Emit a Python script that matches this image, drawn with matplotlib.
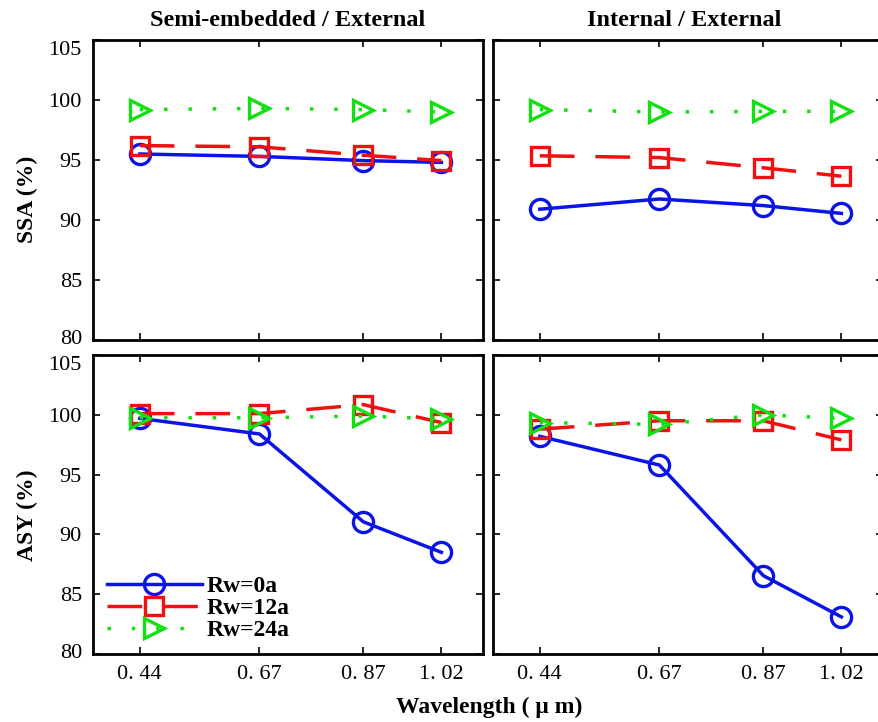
import matplotlib
matplotlib.use("Agg")
import matplotlib.pyplot as plt
import matplotlib.transforms as mtransforms

wavelengths = [0.44, 0.67, 0.87, 1.02]
xtick_labels = ["0. 44", "0. 67", "0. 87", "1. 02"]
series_labels = ["Rw=0a", "Rw=12a", "Rw=24a"]

ssa_semi = {
    "Rw=0a": [95.5, 95.3, 94.95, 94.8],
    "Rw=12a": [96.2, 96.1, 95.4, 94.95],
    "Rw=24a": [99.2, 99.3, 99.2, 99.0],
}
ssa_int = {
    "Rw=0a": [90.9, 91.75, 91.2, 90.55],
    "Rw=12a": [95.35, 95.2, 94.35, 93.65],
    "Rw=24a": [99.2, 99.0, 99.05, 99.05],
}
asy_semi = {
    "Rw=0a": [99.7, 98.4, 91.05, 88.5],
    "Rw=12a": [100.1, 100.1, 100.85, 99.35],
    "Rw=24a": [99.75, 99.75, 99.9, 99.65],
}
asy_int = {
    "Rw=0a": [98.2, 95.8, 86.55, 83.1],
    "Rw=12a": [98.8, 99.5, 99.5, 97.9],
    "Rw=24a": [99.35, 99.2, 100.0, 99.7],
}

styles = {
    "Rw=0a": dict(color="#0a14e6", linestyle="-", marker="o", ms=14.5),
    "Rw=12a": dict(color="#f01010", linestyle=(0, (10, 6)), marker="s", ms=13),
    "Rw=24a": dict(color="#10e010", linestyle=(0, (1, 6)), marker=">", ms=15),
}

plt.rcParams["font.family"] = ["Liberation Serif", "DejaVu Serif"]

W, H = 879, 722
fig = plt.figure(figsize=(W / 100, H / 100), dpi=100)

def rect(x0, y0, x1, y1):
    return [x0 / W, 1 - y1 / H, (x1 - x0) / W, (y1 - y0) / H]

ax_tl = fig.add_axes(rect(93, 40, 483, 340))
ax_tr = fig.add_axes(rect(493, 40, 883, 340))
ax_bl = fig.add_axes(rect(93, 355, 483, 654))
ax_br = fig.add_axes(rect(493, 355, 883, 654))

panels = [(ax_tl, ssa_semi), (ax_tr, ssa_int), (ax_bl, asy_semi), (ax_br, asy_int)]

yticks = [80, 85, 90, 95, 100, 105]
for ax, data in panels:
    for lab in series_labels:
        st = styles[lab]
        ax.plot(wavelengths, data[lab], color=st["color"], linestyle=st["linestyle"],
                lw=2.5, marker=st["marker"], ms=st["ms"], mfc="none",
                mec=st["color"], mew=2.4, label=lab)
    ax.set_xlim(0.35, 1.10)
    ax.set_ylim(80, 105)
    ax.set_yticks(yticks)
    ax.set_xticks(wavelengths)
    ax.tick_params(direction="in", length=5, width=1.2, top=True, right=True,
                   labelsize=16, pad=8)
    for sp in ax.spines.values():
        sp.set_linewidth(2)

for ax in (ax_tl, ax_tr):
    ax.set_xticklabels([])
for ax in (ax_bl, ax_br):
    ax.set_xticklabels(xtick_labels)
for ax in (ax_tr, ax_br):
    ax.set_yticklabels([])

# shift end tick labels inward (as in the reference)
for ax in (ax_tl, ax_bl):
    labels = ax.get_yticklabels()
    up = mtransforms.ScaledTranslation(0, 3 / 100, fig.dpi_scale_trans)
    down = mtransforms.ScaledTranslation(0, -8 / 100, fig.dpi_scale_trans)
    labels[0].set_transform(labels[0].get_transform() + up)
    labels[-1].set_transform(labels[-1].get_transform() + down)

ax_tl.set_ylabel("SSA (%)", fontsize=17, fontweight="bold")
ax_bl.set_ylabel("ASY (%)", fontsize=17, fontweight="bold")
ax_tl.yaxis.set_label_coords(-0.14, 0.47)
ax_bl.yaxis.set_label_coords(-0.14, 0.465)

ax_tl.set_title("Semi-embedded / External", fontsize=17.5, fontweight="bold", pad=10)
ax_tr.set_title("Internal / External", fontsize=17.5, fontweight="bold", pad=10)
ax_tr.title.set_position((0.49, 1.0))

fig.text(489 / W, 1 - 707 / H, "Wavelength ( μ m)", ha="center", va="center",
         fontsize=17, fontweight="bold")

leg = ax_bl.legend(loc="upper left", bbox_to_anchor=(0.0, 0.31), frameon=False,
                   handlelength=4.0, handletextpad=0.2, labelspacing=0.02,
                   borderaxespad=0.2, prop=dict(size=17, weight="bold"))

fig.savefig("out.png", dpi=100)
